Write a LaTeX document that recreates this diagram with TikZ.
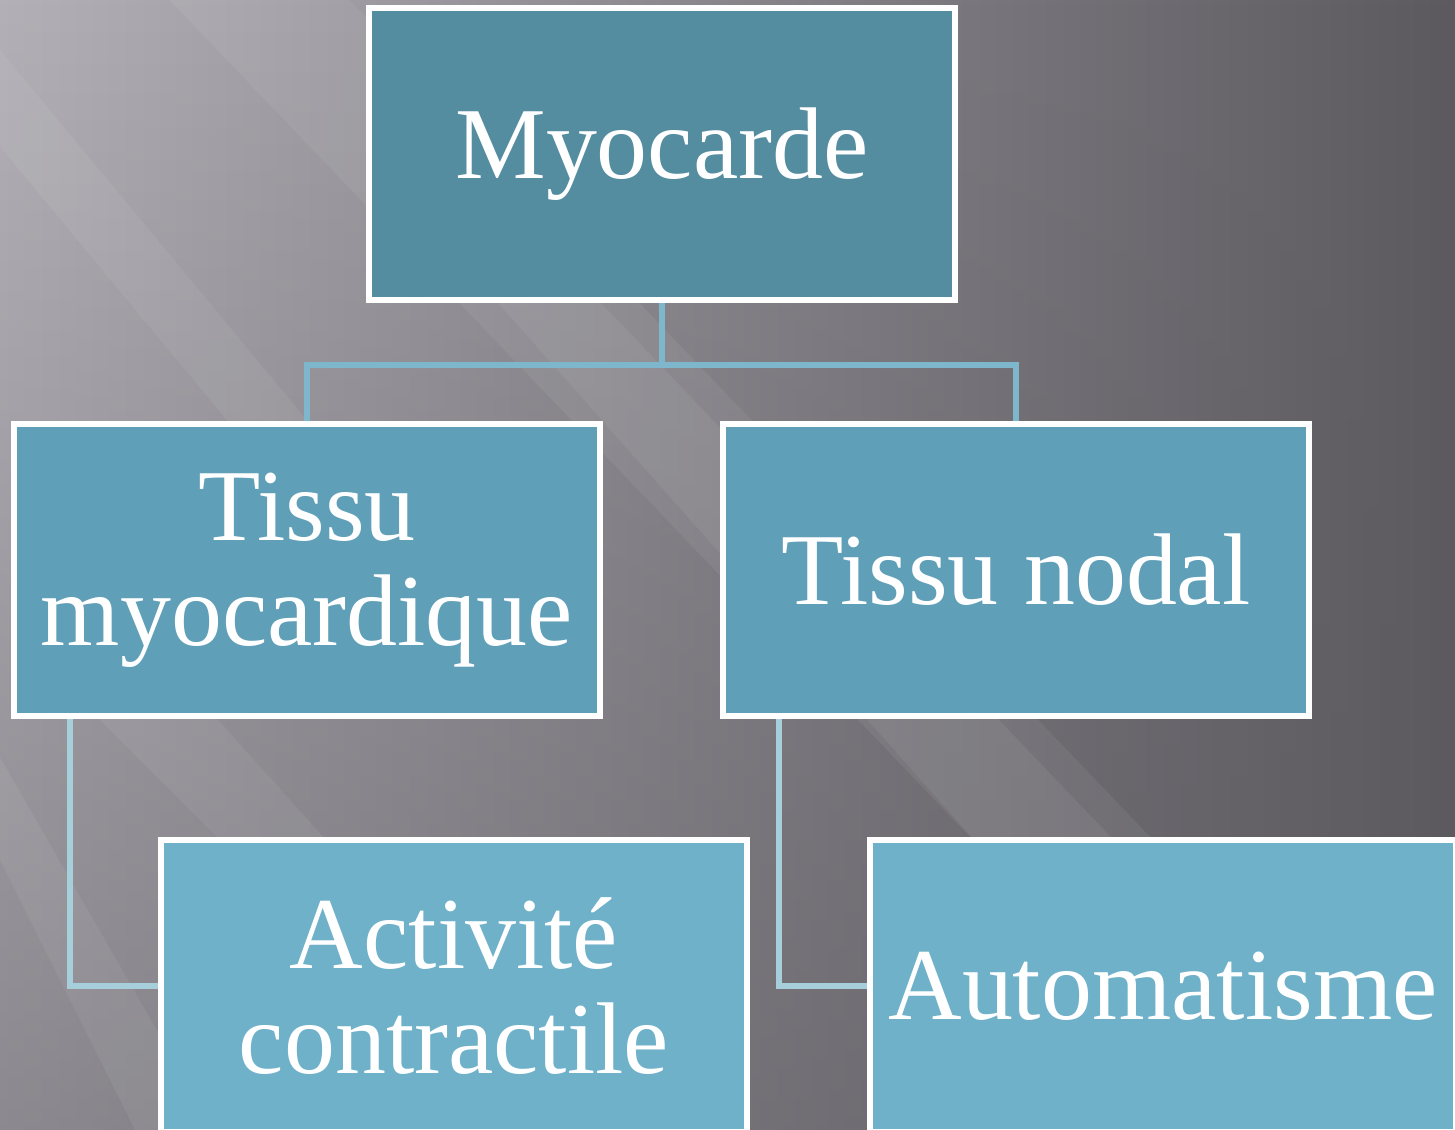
\documentclass[tikz,border=0pt]{standalone}
\usepackage{fontspec}
\setmainfont{Liberation Serif}
\usepackage{tikz}
\usetikzlibrary{fadings}

\definecolor{bgleft}{HTML}{B3B1B7}
\definecolor{bgright}{HTML}{5C5A5F}
\definecolor{boxtop}{HTML}{548CA0}
\definecolor{boxmid}{HTML}{5F9FB7}
\definecolor{boxlow}{HTML}{6FB1C9}
\definecolor{linktop}{HTML}{7EB7CB}
\definecolor{linklow}{HTML}{A6CEDB}

\begin{document}
\begin{tikzpicture}[
        box/.style={rectangle, draw=white, line width=1.8pt, text=white,
            minimum width=5.86cm, minimum height=2.92cm, align=center,
            font=\fontsize{29}{30}\selectfont},
        link/.style={line width=1.8pt},
        streak/.style={white, opacity=0.06}]
        \useasboundingbox (0,0) rectangle (14.55,-11.30);
        \clip (0,0) rectangle (14.55,-11.30);
        % background
        \shade [left color=bgleft, right color=bgright] (0,0) rectangle (14.55,-11.30);
        \fill [bgright, path fading=north, opacity=0.45] (0,0) rectangle (14.55,-11.30);
        \fill [streak] (1.6,0.1) -- (3.4,0.1) -- (14.4,-11.4) -- (12.6,-11.4) -- cycle;
        \fill [streak] (4.6,-2.6) -- (5.6,-2.6) -- (14.0,-11.4) -- (12.4,-11.4) -- cycle;
        \fill [streak] (-1.3,0.1) -- (-0.5,0.1) -- (3.4,-4.6) -- (2.6,-4.6) -- cycle;
        \fill [streak] (0.8,-7.0) -- (2.0,-7.0) -- (3.8,-9.0) -- (2.8,-9.0) -- cycle;
        \fill [streak] (-0.6,-7.4) -- (-0.1,-7.4) -- (2.2,-11.4) -- (1.4,-11.4) -- cycle;
        % boxes
        \node [box, fill=boxtop] (myo) at (6.62,-1.54) {Myocarde};
        \node [box, fill=boxmid] (tmyo) at (3.07,-5.70) {Tissu\\myocardique};
        \node [box, fill=boxmid] (tnod) at (10.16,-5.70) {Tissu nodal};
        \node [box, fill=boxlow] (act) at (4.54,-9.86) {Activité\\contractile};
        \node [box, fill=boxlow] (auto) at (11.63,-9.86) {Automatisme};
        % links
        \draw [link, linktop] (myo.south) -- ++(0,-0.62) -| (tmyo.north);
        \draw [link, linktop] (myo.south) -- ++(0,-0.62) -| (tnod.north);
        \draw [link, linklow] ([xshift=0.59cm]tmyo.south west) |- (act.west);
        \draw [link, linklow] ([xshift=0.59cm]tnod.south west) |- (auto.west);
    \end{tikzpicture}
\end{document}
